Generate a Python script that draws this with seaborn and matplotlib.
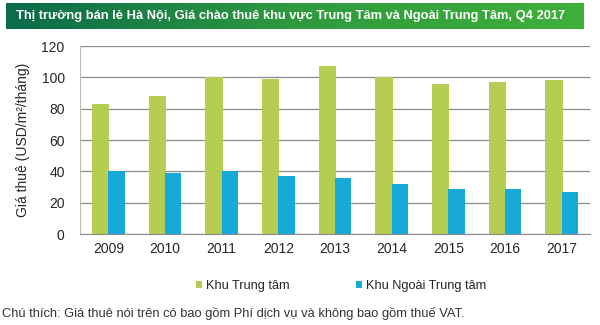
import matplotlib
matplotlib.use("Agg")
import matplotlib.pyplot as plt
import numpy as np
import pandas as pd
import seaborn as sns

# du lieu doc tu bieu do
nam = ["2009", "2010", "2011", "2012", "2013", "2014", "2015", "2016", "2017"]
trung_tam = [83, 88, 100, 99, 107, 100, 96, 97, 98]
ngoai_trung_tam = [40, 39, 40, 37, 36, 32, 29, 29, 27]
ten_nhom = ["Khu Trung tâm", "Khu Ngoài Trung tâm"]

df = pd.DataFrame({
    "Năm": nam * 2,
    "Giá": trung_tam + ngoai_trung_tam,
    "Khu": [ten_nhom[0]] * len(nam) + [ten_nhom[1]] * len(nam),
})

sns.set_style("white")
plt.rcParams["font.family"] = ["Liberation Sans", "DejaVu Sans"]

fig = plt.figure(figsize=(6, 3.25), dpi=100)

# banner tieu de
bax = fig.add_axes([6 / 600, 1 - 29 / 325, 578 / 600, 26 / 325])
grad = np.linspace(0, 1, 256).reshape(1, -1)
cmap = matplotlib.colors.LinearSegmentedColormap.from_list("g", ["#0b6a4c", "#2f9a3e", "#3fb03a"])
bax.imshow(grad, aspect="auto", cmap=cmap, extent=[0, 1, 0, 1])
bax.set_axis_off()
bax.text(0.017, 0.5, "Thị trường bán lẻ Hà Nội, Giá chào thuê khu vực Trung Tâm và Ngoài Trung Tâm, Q4 2017",
         color="white", fontsize=9.3, fontweight="bold", va="center", ha="left",
         transform=bax.transAxes)

ax = fig.add_axes([80 / 600, 1 - 234 / 325, 510 / 600, 188 / 325])
sns.barplot(data=df, x="Năm", y="Giá", hue="Khu", palette=["#b5cd50", "#17a9d8"],
            width=0.58, gap=0, saturation=1, linewidth=0, edgecolor="none", ax=ax, legend=True)
# cot xanh la lan nhe sang cot xanh duong cho khong co khe trang
for p in ax.patches[:len(nam)]:
    p.set_width(p.get_width() + 0.02)

ax.set_ylim(0, 120)
ax.set_xlim(-0.5, len(nam) - 0.5)
ax.set_yticks(range(0, 121, 20))
ax.yaxis.grid(True, color="#8c8c8c", linewidth=0.9)
ax.set_axisbelow(True)
for s in ["top", "right"]:
    ax.spines[s].set_visible(False)
ax.spines["left"].set_color("#bdbdbd")
ax.spines["bottom"].set_color("#8c8c8c")
ax.tick_params(axis="y", length=5, color="#8c8c8c", labelsize=10, pad=6)
ax.tick_params(axis="x", which="major", length=0, labelsize=10, pad=6)
ax.set_xticks(np.arange(-0.5, len(nam), 1), minor=True)
ax.tick_params(axis="x", which="minor", length=4, color="#8c8c8c", direction="out")
ax.set_xlabel("")
ax.set_ylabel("Giá thuê (USD/m²/tháng)", fontsize=10, labelpad=8)

h, l = ax.get_legend_handles_labels()
ax.get_legend().remove()
fig.legend(h, l, loc="center", bbox_to_anchor=(341 / 600, 1 - 286 / 325), ncol=2,
           frameon=False, fontsize=9.2, handlelength=0.5, handleheight=0.5,
           handletextpad=0.3, columnspacing=5.2)

fig.text(2 / 600, 1 - 313 / 325, "Chú thích: Giá thuê nói trên có bao gồm Phí dịch vụ và không bao gồm thuế VAT.",
         fontsize=9.3, color="#333333", va="center", ha="left")

fig.savefig("out.png", dpi=100)
